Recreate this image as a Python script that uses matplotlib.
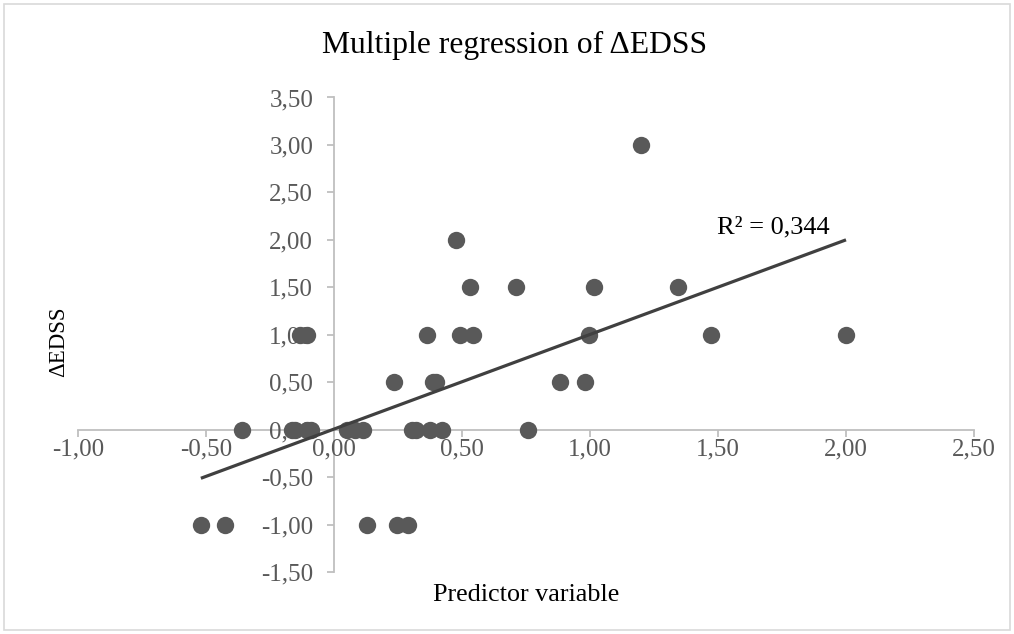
import numpy as np
import matplotlib
matplotlib.use("Agg")
import matplotlib.pyplot as plt
from matplotlib.patches import Rectangle

# Data
x_vals = [-0.52, -0.426, 0.129, 0.246, 0.289,
          -0.36, -0.165, -0.152, -0.107, -0.091, 0.051, 0.082, 0.113, 0.303, 0.32, 0.375, 0.42, 0.758,
          0.234, 0.387, 0.40, 0.883, 0.98,
          -0.133, -0.107, 0.363, 0.492, 0.543, 0.996, 1.473, 2.0,
          0.531, 0.711, 1.016, 1.344,
          0.477,
          1.2]
y_vals = [-1, -1, -1, -1, -1,
          0, 0, 0, 0, 0, 0, 0, 0, 0, 0, 0, 0, 0,
          0.5, 0.5, 0.5, 0.5, 0.5,
          1, 1, 1, 1, 1, 1, 1, 1,
          1.5, 1.5, 1.5, 1.5,
          2,
          3]
# Trendline as shown in the reference (slope, intercept)
trend_slope = 0.997
trend_intercept = 0.006
x_ticks = [-1.0, -0.5, 0.0, 0.5, 1.0, 1.5, 2.0, 2.5]
y_ticks = [-1.5, -1.0, -0.5, 0.0, 0.5, 1.0, 1.5, 2.0, 2.5, 3.0, 3.5]
title = "Multiple regression of \u0394EDSS"
x_label = "Predictor variable"
y_label = "\u0394EDSS"
r2_label = "R\u00b2 = 0,344"

W, H = 1014, 634
fig = plt.figure(figsize=(W / 100, H / 100), dpi=100)
plt.rcParams['font.family'] = ['Liberation Serif', 'DejaVu Serif']

ax = fig.add_axes([78 / W, 1 - 572 / H, (974 - 78) / W, (572 - 97.5) / H])
ax.set_xlim(-1.0, 2.5)
ax.set_ylim(-1.5, 3.5)

x = np.array(x_vals)
y = np.array(y_vals)
ax.scatter(x, y, s=12.5 ** 2, color='#595959', zorder=3, linewidths=0)

xs = np.array([x.min(), x.max()])
ax.plot(xs, trend_intercept + trend_slope * xs, color='#404040', lw=2.3, zorder=4,
        solid_capstyle='butt')

for s in ['top', 'right']:
    ax.spines[s].set_visible(False)
ax.spines['left'].set_position(('data', 0))
ax.spines['bottom'].set_position(('data', 0))
for s in ['left', 'bottom']:
    ax.spines[s].set_color('#bfbfbf')
    ax.spines[s].set_linewidth(1.3)
    ax.spines[s].set_zorder(1)

ax.set_xticks(x_ticks)
ax.set_yticks(y_ticks)
ax.set_xticklabels([f"{v:.2f}".replace('.', ',') for v in x_ticks])
ax.set_yticklabels([f"{v:.2f}".replace('.', ',') for v in y_ticks])
ax.tick_params(axis='both', direction='out', length=5, width=1.3, color='#bfbfbf',
               labelcolor='#595959', labelsize=18)
ax.tick_params(axis='x', pad=1)
ax.tick_params(axis='y', pad=10)
for lbl in ax.get_yticklabels() + ax.get_xticklabels():
    lbl.set_zorder(2)
ax.set_facecolor('none')

fig.text(515 / W, 1 - 45 / H, title, ha='center', va='center', fontsize=22.8, color='black')
fig.text(526 / W, 1 - 595 / H, x_label, ha='center', va='center', fontsize=18.8, color='black')
fig.text(59 / W, 1 - 342 / H, y_label, ha='center', va='center', rotation=90, fontsize=16.5, color='black')
fig.text(717 / W, 1 - 233 / H, r2_label, ha='left', va='baseline', fontsize=19, color='black')

fig.patches.append(Rectangle((4 / W, 4 / H), (W - 8) / W, (H - 8) / H, transform=fig.transFigure,
                             fill=False, edgecolor='#d9d9d9', lw=1.2))

fig.savefig('out.png', dpi=100)
